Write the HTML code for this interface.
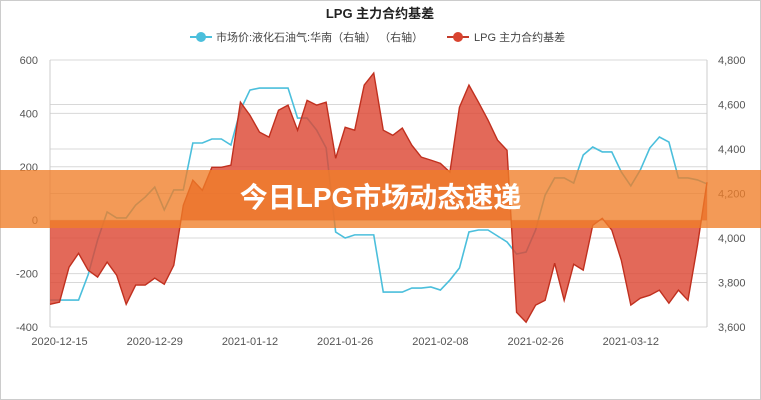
<!DOCTYPE html>
<html><head><meta charset="utf-8"><style>
body{margin:0;width:761px;height:400px;overflow:hidden;background:#fff;font-family:"Liberation Sans","Noto Sans CJK SC",sans-serif}
#wrap{position:relative;width:761px;height:400px}
#banner{position:absolute;left:0;top:170px;width:761px;height:58px;background:rgba(240,125,40,0.78)}
#btext{position:absolute;left:0;top:170px;width:761px;height:58px;line-height:56px;text-align:center;color:#fff;font-weight:bold;font-size:28px;font-family:"Liberation Sans","Noto Sans CJK SC",sans-serif}
</style></head><body>
<div id="wrap">
<svg id="chart" width="761" height="400" style="position:absolute;left:0;top:0"></svg>
<div id="banner"></div>
<div id="btext">今日LPG市场动态速递</div>
</div>
<script>
const leftTicks=[600,400,200,0,-200,-400];
const rightTicks=[4800,4600,4400,4200,4000,3800,3600];
const rightTickLabels=["4,800","4,600","4,400","4,200","4,000","3,800","3,600"];
const dateLabels=["2020-12-15","2020-12-29","2021-01-12","2021-01-26","2021-02-08","2021-02-26","2021-03-12"];
const dateLabelIdx=[1,11,21,31,41,51,61];
const basis=[-315,-307,-176,-124,-187,-213,-157,-206,-315,-243,-243,-217,-240,-169,56,150,112,198,198,206,442,393,330,311,412,431,337,449,431,442,232,348,337,506,551,337,318,345,281,236,225,213,180,423,506,442,375,300,262,-345,-382,-318,-300,-161,-300,-165,-187,-19,7,-37,-150,-318,-292,-281,-262,-311,-262,-300,-94,142];
const price=[3721,3721,3721,3721,3834,3991,4117,4090,4090,4148,4184,4229,4126,4216,4216,4427,4427,4445,4445,4418,4575,4665,4674,4674,4674,4674,4539,4539,4485,4405,4027,4000,4014,4014,4014,3757,3757,3757,3775,3775,3780,3766,3811,3865,4027,4036,4036,4009,3982,3928,3937,4036,4193,4270,4270,4247,4373,4409,4387,4387,4297,4234,4306,4405,4454,4431,4270,4270,4261,4243];

const svg=document.getElementById('chart');
const NS='http://www.w3.org/2000/svg';
const X0=50,X1=707,Y0=60,Y1=327;
const x=i=>X0+i*(X1-X0)/(basis.length-1);
const yL=v=>Y0+(600-v)/1000*(Y1-Y0);
const yR=v=>Y0+(4800-v)/1200*(Y1-Y0);
function mk(t,a,name){const e=document.createElementNS(NS,t);for(const k in a)e.setAttribute(k,a[k]);


svg.appendChild(e);return e;}
mk('rect',{x:0.5,y:0.5,width:760,height:399,fill:'#fff',stroke:'#ccc'},'chart-border');
const t=mk('text',{x:380,y:18,'text-anchor':'middle','font-size':13,'font-weight':'bold',fill:'#222'},'chart-title');t.textContent='LPG 主力合约基差';
mk('line',{x1:190,y1:37,x2:212,y2:37,stroke:'#4bbfdc','stroke-width':2},'legend-price-line');
mk('circle',{cx:201,cy:37,r:5,fill:'#4bbfdc'},'legend-price-marker');
let lt=mk('text',{x:216,y:41,'font-size':11,fill:'#444'},'legend-price-label');lt.textContent='市场价:液化石油气:华南（右轴） （右轴）';
mk('line',{x1:447,y1:37,x2:469,y2:37,stroke:'#c33b2a','stroke-width':2},'legend-basis-line');
mk('circle',{cx:458,cy:37,r:5,fill:'#d9432f'},'legend-basis-marker');
lt=mk('text',{x:474,y:41,'font-size':11,fill:'#444'},'legend-basis-label');lt.textContent='LPG 主力合约基差';
leftTicks.forEach((v,i)=>{mk('line',{x1:X0,x2:X1,y1:yL(v),y2:yL(v),stroke:'#d8d8d8'},'grid-left-'+i);
const tx=mk('text',{x:38,y:yL(v)+4,'text-anchor':'end','font-size':11,fill:'#555'},'left-tick-'+i);tx.textContent=v;});
rightTicks.forEach((v,i)=>{mk('line',{x1:X0,x2:X1,y1:yR(v),y2:yR(v),stroke:'#d8d8d8'},'grid-right-'+i);
const tx=mk('text',{x:718,y:yR(v)+4,'font-size':11,fill:'#555'},'right-tick-'+i);tx.textContent=rightTickLabels[i];});
mk('line',{x1:X0,x2:X0,y1:Y0,y2:Y1,stroke:'#ccc'},'left-axis');
mk('line',{x1:X1,x2:X1,y1:Y0,y2:Y1,stroke:'#ccc'},'right-axis');
dateLabels.forEach((d,i)=>{const tx=mk('text',{x:x(dateLabelIdx[i]),y:345,'text-anchor':'middle','font-size':11,fill:'#555'},'x-tick-'+i);tx.textContent=d;});
mk('polyline',{points:price.map((v,i)=>x(i)+','+yR(v)).join(' '),fill:'none',stroke:'#4bbfdc','stroke-width':1.6},'price-line');
const z=yL(0);
mk('path',{d:'M'+x(0)+','+z+' '+basis.map((v,i)=>'L'+x(i)+','+yL(v)).join(' ')+' L'+x(basis.length-1)+','+z+'Z',fill:'rgba(221,72,52,0.82)'},'basis-area');
mk('polyline',{points:basis.map((v,i)=>x(i)+','+yL(v)).join(' '),fill:'none',stroke:'#c0301f','stroke-width':1.4},'basis-line');
</script>
</body></html>
